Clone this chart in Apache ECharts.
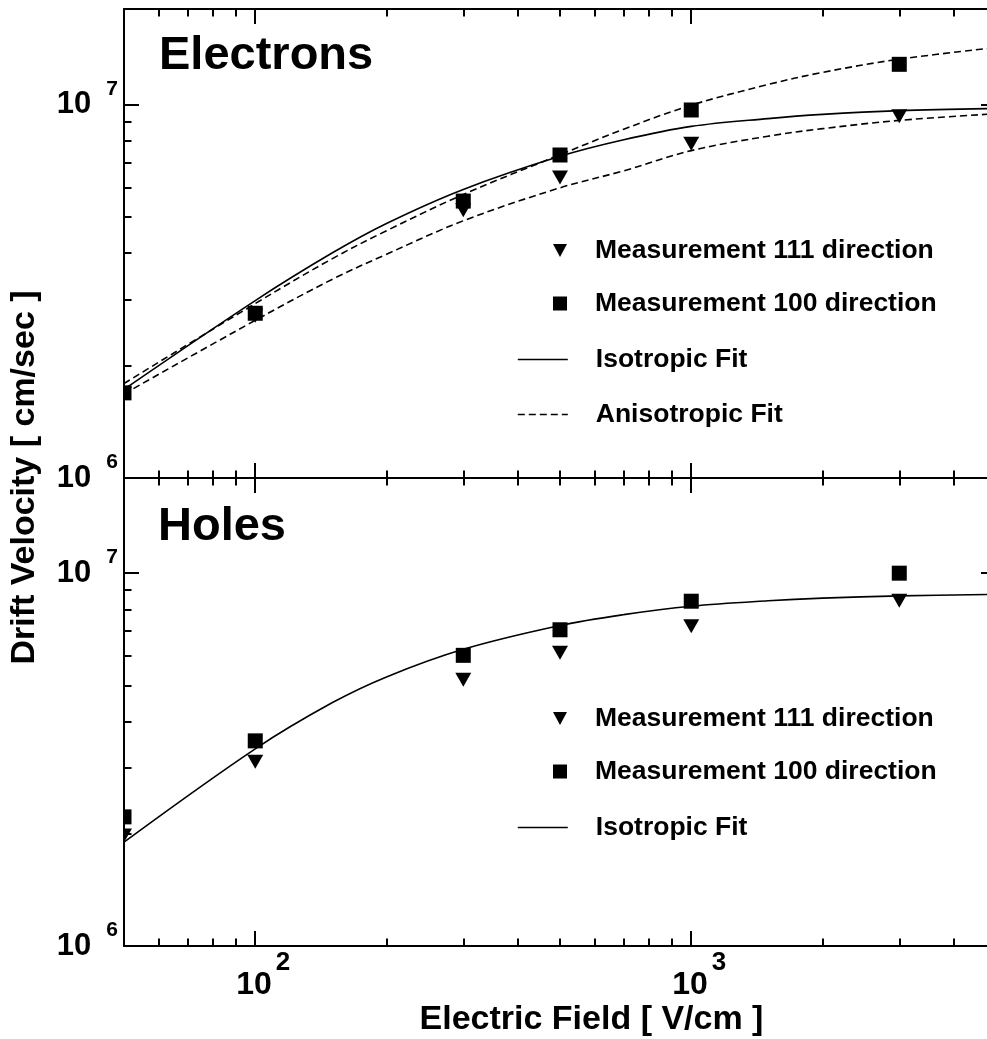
<!DOCTYPE html>
<html><head><meta charset="utf-8">
<script src="https://cdn.jsdelivr.net/npm/echarts@6/dist/echarts.min.js"></script>
<style>html,body{margin:0;padding:0;background:#fff}#c{width:987px;height:1039px}</style>
</head><body><div id="c"></div>
<script>
// ---------- data ----------
const fieldPoints = [50, 100, 300, 500, 1000, 3000];
const elec111 = [1.68e6, 2.72e6, 5.21e6, 6.37e6, 7.85e6, 9.30e6];
const elec100 = [1.69e6, 2.76e6, 5.51e6, 7.32e6, 9.66e6, 1.28e7];
const hole111 = [1.98e6, 3.12e6, 5.18e6, 6.12e6, 7.20e6, 8.44e6];
const hole100 = [2.22e6, 3.55e6, 6.02e6, 7.05e6, 8.41e6, 1.00e7];

const curveField   = [50, 100, 150, 200, 300, 500, 700, 1000, 1500, 2000, 3000, 5000];
const elecIsoVel    = [1.727e6, 2.985e6, 4.0e6, 4.8e6, 5.92e6, 7.26e6, 8.04e6, 8.73e6, 9.16e6, 9.40e6, 9.62e6, 9.75e6];
const elecAni100Vel = [1.79e6, 2.93e6, 3.86e6, 4.59e6, 5.74e6, 7.33e6, 8.58e6, 9.95e6, 1.13e7, 1.218e7, 1.321e7, 1.419e7];
const elecAni111Vel = [1.679e6, 2.642e6, 3.40e6, 3.97e6, 4.88e6, 5.98e6, 6.64e6, 7.52e6, 8.22e6, 8.61e6, 9.06e6, 9.44e6];
const holeIsoVel    = [1.90e6, 3.38e6, 4.49e6, 5.27e6, 6.25e6, 7.24e6, 7.74e6, 8.15e6, 8.43e6, 8.57e6, 8.69e6, 8.77e6];

// ---------- axis ticks ----------
const xMajorTicks = [100, 1000];
const xMinorTicks = [60, 70, 80, 90, 200, 300, 400, 500, 600, 700, 800, 900, 2000, 3000, 4000];
const yMajorTicks = [1e6, 1e7];
const yMinorTicks = [2e6, 3e6, 4e6, 5e6, 6e6, 7e6, 8e6, 9e6];
const X_MIN = 50, X_MAX = 5000, Y_MIN = 1e6, Y_MAX = 1.8e7;

const FONT = "'Liberation Sans', Arial, Helvetica, sans-serif";
const LINE = {color: '#000', width: 2};
const MAJOR = 15, MINOR = 7.5;

function pairs(xs, ys) { return xs.map((x, i) => [x, ys[i]]); }
function expOf(v) { return Math.round(Math.log10(v)); }

function mkAxis(kind, grid, pos, ticks, len, showLine, extra) {
  const ax = {
    type: 'log', logBase: 10, gridIndex: grid, position: pos, z: 10,
    min: kind === 'x' ? X_MIN : Y_MIN, max: kind === 'x' ? X_MAX : Y_MAX,
    axisLine: {show: showLine, onZero: false, lineStyle: LINE},
    axisTick: {show: true, inside: true, length: len, customValues: ticks, lineStyle: LINE},
    axisLabel: {show: false}, splitLine: {show: false}, minorTick: {show: false}, minorSplitLine: {show: false}
  };
  return Object.assign(ax, extra || {});
}

const xLabelStyle = {
  show: true, margin: 4, customValues: xMajorTicks,
  formatter: v => '{p| }{b|10}{s|' + expOf(v) + '}',
  rich: {
    p: {width: 16},
    b: {fontSize: 32, fontWeight: 'bold', fontFamily: FONT, color: '#000', lineHeight: 71},
    s: {fontSize: 26, fontWeight: 'bold', fontFamily: FONT, color: '#000', lineHeight: 26, verticalAlign: 'top', padding: [0, 0, 0, 4]}
  }
};
const yLabelStyle = {
  show: true, margin: 6, customValues: yMajorTicks,
  formatter: v => '{b|10}{s|' + expOf(v) + '}',
  rich: {
    b: {fontSize: 31, fontWeight: 'bold', fontFamily: FONT, color: '#000', lineHeight: 52},
    s: {fontSize: 21, fontWeight: 'bold', fontFamily: FONT, color: '#000', lineHeight: 21, verticalAlign: 'top', padding: [0, 0, 0, 15]}
  }
};
const titleFont = {fontSize: 34, fontWeight: 'bold', fontFamily: FONT, color: '#000'};

const xAxes = [], yAxes = [];
[0, 1].forEach(g => {
  const bottomExtra = g === 1 ? {
    axisLabel: xLabelStyle,
    name: 'Electric Field [ V/cm ]', nameLocation: 'middle', nameGap: 54,
    nameTextStyle: Object.assign({padding: [0, 0, 0, 63]}, titleFont)
  } : {};
  xAxes.push(mkAxis('x', g, 'bottom', xMajorTicks, MAJOR, true, bottomExtra));
  xAxes.push(mkAxis('x', g, 'bottom', xMinorTicks, MINOR, false));
  xAxes.push(mkAxis('x', g, 'top', xMajorTicks, MAJOR, true));
  xAxes.push(mkAxis('x', g, 'top', xMinorTicks, MINOR, false));
  yAxes.push(mkAxis('y', g, 'left', yMajorTicks, MAJOR, true, {axisLabel: yLabelStyle}));
  yAxes.push(mkAxis('y', g, 'left', yMinorTicks, MINOR, false));
  yAxes.push(mkAxis('y', g, 'right', yMajorTicks, MAJOR, true));
  yAxes.push(mkAxis('y', g, 'right', yMinorTicks, MINOR, false));
});
// helper grid spanning both panels, only for the shared y-axis title
xAxes.push({type: 'value', gridIndex: 2, show: false});
yAxes.push({
  type: 'value', gridIndex: 2, min: 0, max: 1, position: 'left', z: 10,
  axisLine: {show: false}, axisTick: {show: false}, axisLabel: {show: false}, splitLine: {show: false},
  name: 'Drift Velocity [ cm/sec ]', nameLocation: 'middle', nameGap: 82,
  nameTextStyle: titleFont
});

const black = {color: '#000', opacity: 1};
function scatter(name, g, sym, size, rot, ys) {
  return {name, type: 'scatter', xAxisIndex: g * 4, yAxisIndex: g * 4, symbol: sym, symbolSize: size,
          symbolRotate: rot, itemStyle: black, data: pairs(fieldPoints, ys), z: 2};
}
function curve(name, g, dashed, ys) {
  return {name, type: 'line', xAxisIndex: g * 4, yAxisIndex: g * 4, smooth: 0.35, symbol: 'none',
          itemStyle: black, lineStyle: {color: '#000', width: 1.6, opacity: 1, type: dashed ? [7, 4] : 'solid'},
          data: pairs(curveField, ys), z: 1};
}

const legendText = {fontSize: 26.5, fontWeight: 'bold', fontFamily: FONT, color: '#000', padding: [0, 0, 0, 23]};
const DOWN_TRI = 'path://M0,0L14,0L7,13Z';
function markerLegend(top) {
  return {orient: 'vertical', left: 553, top, itemWidth: 14, itemHeight: 14, itemGap: 26, padding: 0,
          selectedMode: false, textStyle: legendText,
          data: [{name: 'Measurement 111 direction', icon: DOWN_TRI}, {name: 'Measurement 100 direction', icon: 'rect'}]};
}
function lineLegend(top, names) {
  return {orient: 'vertical', left: 517, top, itemWidth: 50, itemHeight: 14, itemGap: 28, padding: 0,
          selectedMode: false, textStyle: legendText, itemStyle: {opacity: 0},
          lineStyle: {width: 1.6}, data: names};
}

const option = {
  animation: false,
  backgroundColor: '#fff',
  grid: [
    {left: 124, right: -9, top: 9, height: 469, containLabel: false, outerBoundsMode: 'none'},
    {left: 124, right: -9, top: 478, height: 468, containLabel: false, outerBoundsMode: 'none'},
    {left: 124, right: -9, top: 9, height: 937, containLabel: false, outerBoundsMode: 'none'}
  ],
  title: [
    {text: 'Electrons', left: 159, top: 33, padding: 0, textStyle: {fontSize: 47, fontWeight: 'bold', fontFamily: FONT, color: '#000'}},
    {text: 'Holes', left: 158, top: 504, padding: 0, textStyle: {fontSize: 47, fontWeight: 'bold', fontFamily: FONT, color: '#000'}}
  ],
  legend: [
    markerLegend(237),
    lineLegend(346, ['Isotropic Fit', 'Anisotropic Fit']),
    markerLegend(705),
    lineLegend(814, ['Isotropic Fit'])
  ],
  graphic: [
    {type: 'rect', left: 0, top: 0, shape: {width: 123, height: 1039}, style: {fill: '#fff'}, z: 5, silent: true}
  ],
  xAxis: xAxes,
  yAxis: yAxes,
  series: [
    curve('Isotropic Fit', 0, false, elecIsoVel),
    curve('Anisotropic Fit', 0, true, elecAni100Vel),
    curve('Anisotropic Fit', 0, true, elecAni111Vel),
    scatter('Measurement 111 direction', 0, 'triangle', [16, 14], 180, elec111),
    scatter('Measurement 100 direction', 0, 'rect', 15, 0, elec100),
    curve('Isotropic Fit', 1, false, holeIsoVel),
    scatter('Measurement 111 direction', 1, 'triangle', [16, 14], 180, hole111),
    scatter('Measurement 100 direction', 1, 'rect', 15, 0, hole100)
  ]
};

const chart = echarts.init(document.getElementById('c'), null, {renderer: 'canvas'});
chart.setOption(option);
</script>
</body></html>
